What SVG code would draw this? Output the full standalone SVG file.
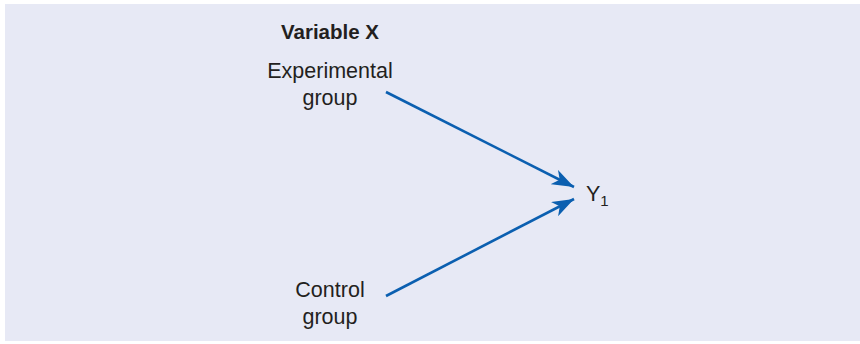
<svg xmlns="http://www.w3.org/2000/svg" width="860" height="344" viewBox="0 0 860 344">
  <defs>
    <style>
      .lbl { font-family: "Liberation Sans", Arial, sans-serif; font-size: 21.5px; fill: #231f20; text-anchor: middle; }
      .bold { font-weight: bold; font-size: 20.5px; }
      .conn { stroke: #0b5fb0; stroke-width: 2.6; fill: none; }
    </style>
    <marker id="arr" markerUnits="userSpaceOnUse" markerWidth="24" markerHeight="16" refX="22" refY="8" orient="auto" viewBox="0 0 24 16">
      <path d="M0,0 L22,8 L0,16 L6,8 Z" fill="#0b5fb0"/>
    </marker>
  </defs>
  <rect x="5" y="4" width="855" height="337" fill="#e7e9f5"/>
  <g id="title">
    <text class="lbl bold" x="330" y="39">Variable X</text>
  </g>
  <g id="experimental">
    <text class="lbl" x="330" y="78">Experimental</text>
    <text class="lbl" x="330" y="105">group</text>
  </g>
  <g id="control">
    <text class="lbl" x="330" y="297">Control</text>
    <text class="lbl" x="330" y="324">group</text>
  </g>
  <g id="y1">
    <text class="lbl" x="586" y="201" style="text-anchor:start">Y<tspan font-size="15" dy="5">1</tspan></text>
  </g>
  <g id="connectors">
    <line class="conn" x1="386" y1="92" x2="574" y2="187" marker-end="url(#arr)"/>
    <line class="conn" x1="386" y1="296" x2="574" y2="199" marker-end="url(#arr)"/>
  </g>
</svg>
